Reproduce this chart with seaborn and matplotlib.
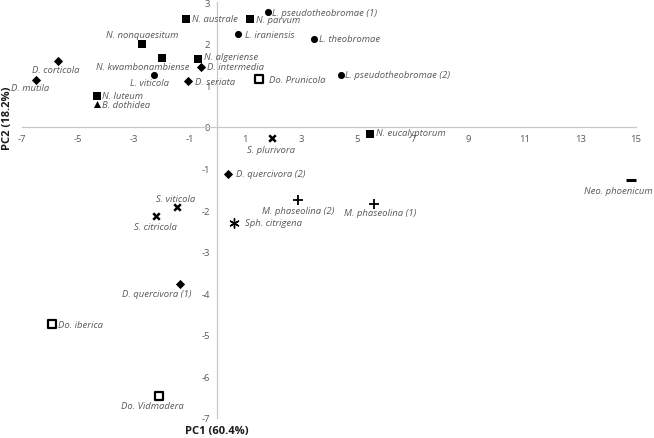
import numpy as np
import pandas as pd
import matplotlib
matplotlib.use("Agg")
import matplotlib.pyplot as plt
import seaborn as sns

# PCA scores
names = ["N. australe", "N. parvum", "L. pseudotheobromae (1)", "L. iraniensis", "L. theobromae",
         "N. nonquaesitum", "N. kwambonambiense", "N. algeriense", "D. intermedia", "D. corticola",
         "D. mutila", "L. viticola", "D. seriata", "Do. Prunicola", "L. pseudotheobromae (2)",
         "N. luteum", "B. dothidea", "S. plurivora", "N. eucalyptorum", "Neo. phoenicum",
         "D. quercivora (2)", "M. phaseolina (2)", "M. phaseolina (1)", "S. viticola", "S. citricola",
         "Sph. citrigena", "D. quercivora (1)", "Do. iberica", "Do. Vidmadera"]
pc1 = [-1.13, 1.16, 1.81, 0.73, 3.46,
       -2.71, -1.99, -0.70, -0.59, -5.72,
       -6.51, -2.28, -1.06, 1.49, 4.43,
       -4.32, -4.32, 1.95, 5.47, 14.82,
       0.38, 2.89, 5.61, -1.45, -2.20,
       0.59, -1.34, -5.93, -2.10]
pc2 = [2.60, 2.58, 2.77, 2.24, 2.10,
       1.98, 1.66, 1.64, 1.45, 1.59,
       1.13, 1.25, 1.11, 1.16, 1.25,
       0.75, 0.55, -0.27, -0.17, -1.28,
       -1.13, -1.76, -1.86, -1.93, -2.15,
       -2.31, -3.78, -4.75, -6.46]
genus = ["N", "N", "L", "L", "L",
         "N", "N", "N", "D", "D",
         "D", "L", "D", "Do", "L",
         "N", "B", "S", "N", "Neo",
         "D", "M", "M", "S", "S",
         "Sph", "D", "Do", "Do"]

x_ticks = list(range(-7, 16, 2))
y_ticks = list(range(-7, 4))

df = pd.DataFrame({"name": names, "PC1": pc1, "PC2": pc2, "genus": genus})

# marker style per genus
marker_style = {
    "N": dict(marker="s", s=28, color="black", edgecolor="black", linewidth=0),
    "L": dict(marker="o", s=26, color="black", edgecolor="black", linewidth=0),
    "D": dict(marker="D", s=22, color="black", edgecolor="black", linewidth=0),
    "Do": dict(marker="s", s=40, color="white", edgecolor="black", linewidth=1.6),
    "B": dict(marker="^", s=26, color="black", edgecolor="black", linewidth=0),
    "S": dict(marker="x", s=22, color="black", linewidth=1.8),
    "M": dict(marker="+", s=45, color="black", linewidth=1.3),
    "Sph": dict(marker=(6, 2, 0), s=45, color="black", linewidth=1.0),
    "Neo": dict(marker="_", s=50, color="black", linewidth=2.2),
}

# label placement (pixel offset from point, horizontal alignment)
label_pos = {
    "N. australe": (6, 0, "left"), "N. parvum": (6, 0, "left"),
    "L. pseudotheobromae (1)": (4, -1, "left"), "L. iraniensis": (7, -1, "left"),
    "L. theobromae": (5, 1, "left"), "N. nonquaesitum": (0, 10, "center"),
    "N. kwambonambiense": (-19, -9, "center"), "N. algeriense": (6, 2, "left"),
    "D. intermedia": (6, 0, "left"), "D. corticola": (-2, -9, "center"),
    "D. mutila": (-6, -8, "center"), "L. viticola": (-4, -8, "center"),
    "D. seriata": (7, -1, "left"), "Do. Prunicola": (10, -1, "left"),
    "L. pseudotheobromae (2)": (4, 0, "left"), "N. luteum": (5, 0, "left"),
    "B. dothidea": (5, -1, "left"), "S. plurivora": (-1, -11, "center"),
    "N. eucalyptorum": (6, 1, "left"), "Neo. phoenicum": (-13, -10, "center"),
    "D. quercivora (2)": (8, 0, "left"), "M. phaseolina (2)": (0, -10, "center"),
    "M. phaseolina (1)": (6, -8, "center"), "S. viticola": (-1, 9, "center"),
    "S. citricola": (-1, -10, "center"), "Sph. citrigena": (11, 0, "left"),
    "D. quercivora (1)": (-23, -9, "center"), "Do. iberica": (6, 0, "left"),
    "Do. Vidmadera": (-6, -10, "center"),
}

sns.set_style("white")
plt.rcParams["font.family"] = ["Open Sans", "DejaVu Sans"]

fig = plt.figure(figsize=(6.54, 4.39), dpi=100)
ax = fig.add_axes([0.0336, 0.0456, 0.939, 0.9475])

for g, sub in df.groupby("genus"):
    sns.scatterplot(data=sub, x="PC1", y="PC2", ax=ax, legend=False, clip_on=False,
                    zorder=3, **marker_style[g])

for _, row in df.iterrows():
    dx, dy, ha = label_pos[row["name"]]
    ax.annotate(row["name"], (row["PC1"], row["PC2"]), xytext=(dx, dy),
                textcoords="offset pixels", ha=ha, va="center",
                fontsize=6.8, style="italic", color="#595959")

ax.set_xlim(-7, 15)
ax.set_ylim(-7, 3)
ax.set_xticks(x_ticks)
ax.set_yticks(y_ticks)
ax.set_xticklabels([str(t) for t in x_ticks])
ax.set_yticklabels([str(t) for t in y_ticks])
ax.tick_params(axis="both", length=0, labelsize=6.8, labelcolor="#595959")
ax.tick_params(axis="x", pad=5)
ax.tick_params(axis="y", pad=5)

ax.spines["left"].set_position(("data", 0))
ax.spines["bottom"].set_position(("data", 0))
for side in ["left", "bottom"]:
    ax.spines[side].set_color("#c8c8c8")
    ax.spines[side].set_linewidth(0.9)
ax.spines["top"].set_visible(False)
ax.spines["right"].set_visible(False)
ax.set_xlabel("")
ax.set_ylabel("")

fig.text(217 / 654, 1 - 432 / 439, "PC1 (60.4%)", ha="center", va="center",
         fontsize=8, fontweight="bold", color="#1a1a1a")
fig.text(8 / 654, 1 - 118 / 439, "PC2 (18.2%)", ha="center", va="center",
         rotation=90, fontsize=8, fontweight="bold", color="#1a1a1a")

fig.savefig("out.png", dpi=100)
